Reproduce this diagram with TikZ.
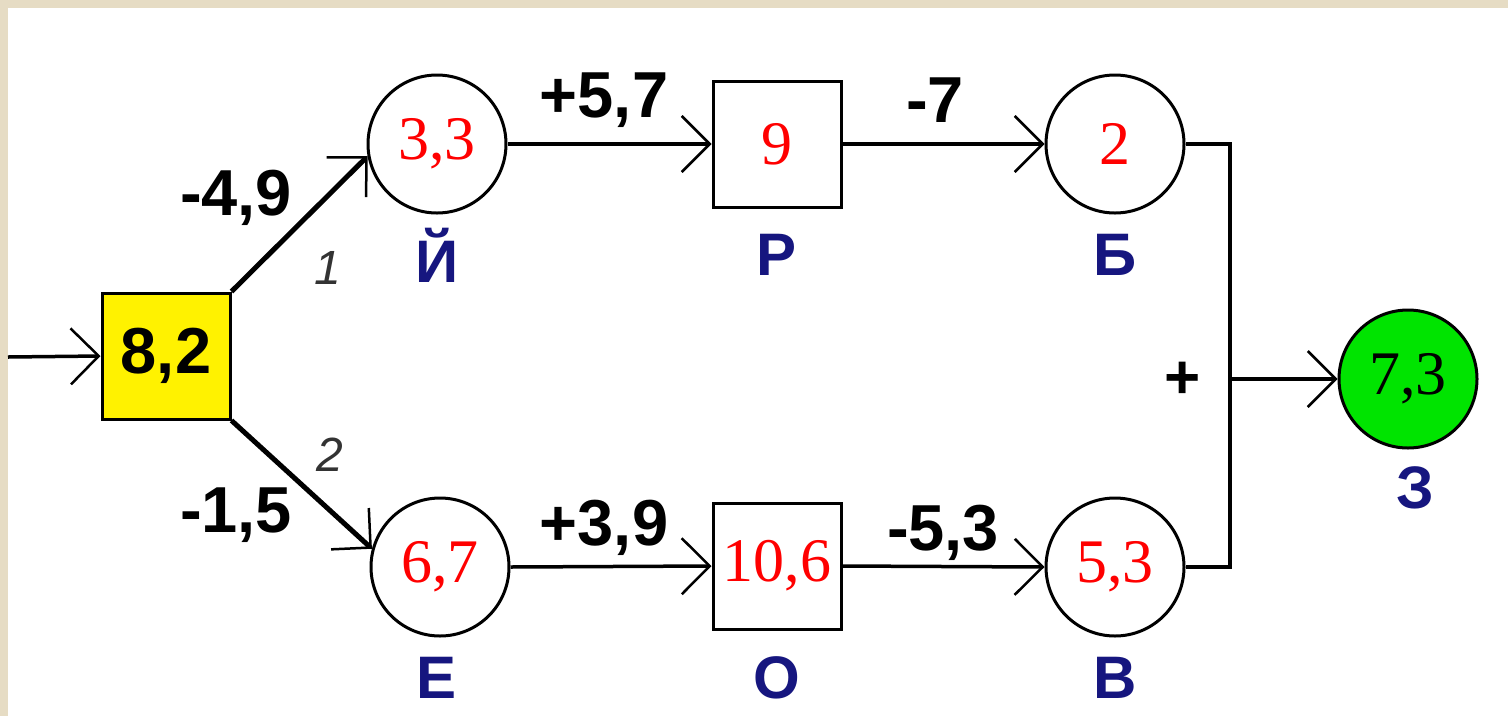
\documentclass[tikz,border=0pt]{standalone}
\usepackage{fontspec}
\setmainfont{Liberation Sans}
\newfontfamily\numfont{Liberation Serif}
\usetikzlibrary{arrows.meta}
\definecolor{Sand}{HTML}{E6DCC4}
\definecolor{Navy}{HTML}{16167F}
\definecolor{Leaf}{HTML}{00E400}
\definecolor{Slate}{HTML}{333333}

\begin{document}
\begin{tikzpicture}[x=1pt,y=-1pt,
    state/.style={circle,draw,line width=3pt,minimum size=138pt,inner sep=0pt,
      text=red,font=\numfont\fontsize{62}{62}\selectfont},
    block/.style={rectangle,draw,line width=3pt,minimum width=128pt,minimum height=126pt,
      inner sep=0pt,text=red,font=\numfont\fontsize{62}{62}\selectfont},
    link/.style={line width=3.5pt,-{Straight Barb[length=28pt,width=56pt,line width=2.5pt]}},
    wire/.style={line width=3.5pt},
    weight/.style={font=\bfseries\fontsize{65}{65}\selectfont},
    tag/.style={text=Navy,font=\bfseries\fontsize{60}{60}\selectfont},
    branch/.style={text=Slate,font=\itshape\fontsize{48}{48}\selectfont}]
    \useasboundingbox (0,0) rectangle (1508,716);
    \fill[white] (0,0) rectangle (1508,716);
    \fill[Sand] (0,0) rectangle (1508,8);
    \fill[Sand] (0,0) rectangle (8,716);
    % nodes
    \node[block,fill=yellow,text=black,font=\bfseries\fontsize{65}{65}\selectfont] (src) at (166,356) {8,2};
    \node[state] (Y) at (437,144) {3,3};
    \node[block] (R) at (777,144) {9};
    \node[state] (B) at (1115,144) {2};
    \node[state] (E) at (440,567) {6,7};
    \node[block] (O) at (777,566) {10,6};
    \node[state] (V) at (1115,567) {5,3};
    \node[state,fill=Leaf,text=black] (Z) at (1408,379) {7,3};
    % letters under the nodes
    \foreach \nm/\xx/\yy/\txt in {tY/437/255/Й,tR/777/255/Р,tB/1115/255/Б,
                                  tE/437/678/Е,tO/777/678/О,tV/1115/678/В,tZ/1415/488/З}
      \node[tag] (\nm) at (\xx,\yy) {\txt};
    % connectors
    \coordinate (in) at (8,357);
    \coordinate (j) at (1230,379);
    \draw[link] (in) -- (src.west);
    \draw[link,line width=5pt] (src.north east) -- (Y.190);
    \draw[link,line width=5pt] (src.south east) -- (E.165);
    \draw[link] (Y.east) -- (R.west);
    \draw[link] (R.east) -- (B.west);
    \draw[link] (E.east) -- (O.west);
    \draw[link] (O.east) -- (V.west);
    \draw[wire] (B.east) -| (j) |- (V.east);
    \draw[link] (j) -- (Z.west);
    % weights
    \node[weight] (w1) at (236,198) {-4,9};
    \node[weight] (w2) at (236,515) {-1,5};
    \node[weight] (w3) at (604,100) {+5,7};
    \node[weight] (w4) at (935,100) {-7};
    \node[weight] (w5) at (604,528) {+3,9};
    \node[weight] (w6) at (943,533) {-5,3};
    \node[weight,font=\bfseries\fontsize{62}{62}\selectfont] (sum) at (1183,380) {+};
    \node[branch] (b1) at (328,268) {1};
    \node[branch] (b2) at (330,455) {2};
  \end{tikzpicture}
\end{document}
